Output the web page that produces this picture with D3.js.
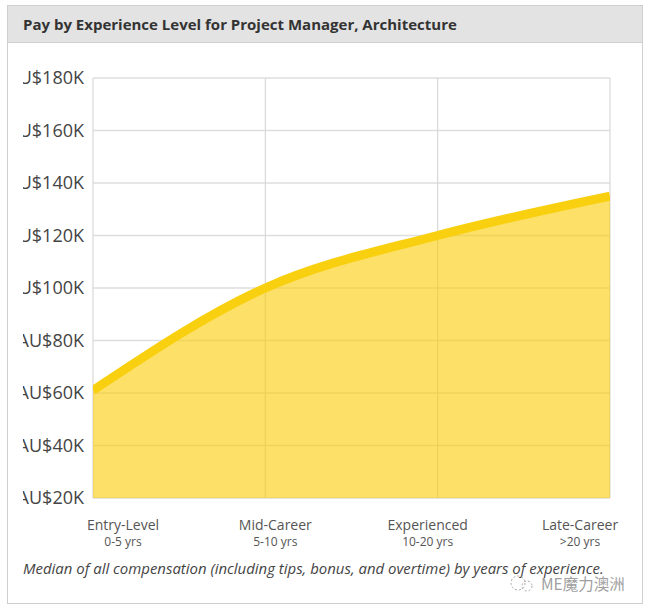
<!DOCTYPE html>
<html>
<head>
<meta charset="utf-8">
<style>
  html, body { margin: 0; padding: 0; background: #fff; }
  svg { display: block; font-family: "Open Sans", sans-serif; }
</style>
</head>
<body>
<svg width="646" height="611"></svg>
<script src="https://d3js.org/d3.v7.min.js"></script>
<script>
var levels = ["Entry-Level", "Mid-Career", "Experienced", "Late-Career"];
var years = ["0-5 yrs", "5-10 yrs", "10-20 yrs", ">20 yrs"];
var pay = [61, 100, 120, 135];
var yTicks = [20, 40, 60, 80, 100, 120, 140, 160, 180];
var title = "Pay by Experience Level for Project Manager, Architecture";
var note = "Median of all compensation (including tips, bonus, and overtime) by years of experience.";
var watermark = "ME魔力澳洲";

var svg = d3.select("svg"),
    margin = {top: 78, right: 36, bottom: 113, left: 93},
    width = +svg.attr("width") - margin.left - margin.right,
    height = +svg.attr("height") - margin.top - margin.bottom;

// panel and header
svg.append("rect").attr("x", 7.5).attr("y", 5.5).attr("width", 635).attr("height", 598)
    .attr("fill", "#fff").attr("stroke", "#cfcfcf");
svg.append("rect").attr("x", 7.5).attr("y", 5.5).attr("width", 635).attr("height", 37)
    .attr("fill", "#e3e3e3").attr("stroke", "#cfcfcf");
svg.append("text").attr("x", 23).attr("y", 30)
    .attr("font-size", 15).attr("font-weight", 700).attr("fill", "#333")
    .text(title);

// tick labels are cut off on the left in the original
svg.append("clipPath").attr("id", "label-clip").append("rect")
    .attr("x", 23).attr("y", 60).attr("width", 70).attr("height", 450);

var g = svg.append("g").attr("transform", "translate(" + margin.left + "," + margin.top + ")");

var x = d3.scalePoint().domain(levels).range([0, width]);
var y = d3.scaleLinear().domain([20, 180]).range([height, 0]);

var yAxis = d3.axisLeft(y).tickValues(yTicks).tickSize(0).tickPadding(9)
    .tickFormat(function(d) { return "AU$" + d + "K"; });
var yg = svg.append("g").attr("clip-path", "url(#label-clip)")
    .append("g").attr("transform", "translate(" + margin.left + "," + margin.top + ")")
    .call(yAxis);
yg.select(".domain").remove();
yg.selectAll("text").attr("font-size", 18).attr("fill", "#444")
    .style("font-family", "'Open Sans', sans-serif");

// grid
g.append("g").selectAll("line").data(yTicks).enter().append("line")
    .attr("x1", 0).attr("x2", width)
    .attr("y1", function(d) { return y(d); }).attr("y2", function(d) { return y(d); })
    .attr("stroke", "#dedede").attr("stroke-width", 1.5);
g.append("g").selectAll("line").data(levels).enter().append("line")
    .attr("x1", function(d) { return x(d); }).attr("x2", function(d) { return x(d); })
    .attr("y1", 0).attr("y2", height)
    .attr("stroke", "#d8d8d8").attr("stroke-width", 1.2);

var curve = d3.curveMonotoneX;
var points = pay.map(function(d, i) { return {level: levels[i], value: d}; });

var area = d3.area()
    .x(function(d) { return x(d.level); })
    .y0(height)
    .y1(function(d) { return y(d.value); })
    .curve(curve);
var line = d3.line()
    .x(function(d) { return x(d.level); })
    .y(function(d) { return y(d.value); })
    .curve(curve);

svg.append("clipPath").attr("id", "plot-clip").append("rect")
    .attr("x", 0).attr("y", -10).attr("width", width).attr("height", height + 10);

g.append("path").datum(points)
    .attr("fill", "#facb03").attr("fill-opacity", 0.6)
    .attr("d", area);
g.append("path").datum(points)
    .attr("clip-path", "url(#plot-clip)")
    .attr("fill", "none").attr("stroke", "#f9d00f").attr("stroke-width", 9)
    .attr("d", line);

// x labels, centred a bit inside the plot like the original
var labelX = d3.scalePoint().domain(levels).range([123, 580]);
var xl = svg.append("g").selectAll("g").data(levels).enter().append("g")
    .attr("transform", function(d) { return "translate(" + labelX(d) + ",0)"; })
    .attr("text-anchor", "middle");
xl.append("text").attr("y", 530).attr("font-size", 14).attr("fill", "#555")
    .text(function(d) { return d; });
xl.append("text").attr("y", 546).attr("font-size", 12).attr("fill", "#555")
    .text(function(d, i) { return years[i]; });

svg.append("text").attr("x", 23).attr("y", 574)
    .attr("font-size", 14.95).attr("font-style", "italic").attr("fill", "#444")
    .text(note);

// watermark
svg.append("text").attr("x", 541).attr("y", 590)
    .attr("font-size", 15.5).attr("fill", "#a0a0a0")
    .style("font-family", "'Noto Sans CJK SC', sans-serif")
    .text(watermark);
var wm = svg.append("g").attr("fill", "none").attr("stroke", "#a8a8a8").attr("stroke-dasharray", "2 2");
wm.append("circle").attr("cx", 518).attr("cy", 583).attr("r", 7);
wm.append("circle").attr("cx", 527).attr("cy", 586).attr("r", 5);
</script>
</body>
</html>
